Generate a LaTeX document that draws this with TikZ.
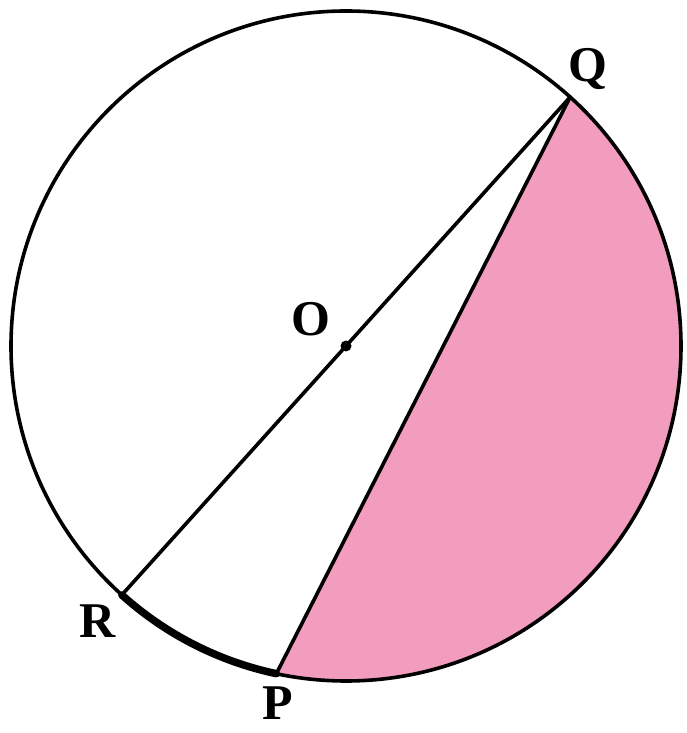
\documentclass[tikz,border=0pt]{standalone}
\usepackage{fontspec}
\setmainfont{Liberation Serif}
\definecolor{segpink}{RGB}{242,156,190}
\begin{document}
\begin{tikzpicture}[x=1pt,y=1pt,
  lbl/.style={font=\fontsize{50}{50}\selectfont\bfseries, inner sep=0pt},
  geo/.style={line width=3.6pt, line join=round, line cap=round}]
\useasboundingbox (0,0) rectangle (687,733);
\coordinate (O) at (346,387);
\coordinate (Q) at ([shift={(48:335)}]O);
\coordinate (R) at ([shift={(228:335)}]O);
\coordinate (P) at ([shift={(258:335)}]O);
% shaded segment
\fill[segpink] (P) -- (Q) arc[start angle=48, end angle=-102, radius=335] -- cycle;
% circle
\draw[geo] (O) circle[radius=335];
% thick arc RP
\draw[line width=7.5pt, line cap=round] (R) arc[start angle=228, end angle=258, radius=335];
% chords
\draw[geo] (R) -- (Q);
\draw[geo] (P) -- (Q);
% centre
\fill (O) circle[radius=5.5];
% labels
\node[lbl] (lQ) at (588,664) {Q};
\node[lbl] (lO) at (311,414) {O};
\node[lbl] (lR) at (98,112) {R};
\node[lbl] (lP) at (278,30) {P};
\end{tikzpicture}
\end{document}
